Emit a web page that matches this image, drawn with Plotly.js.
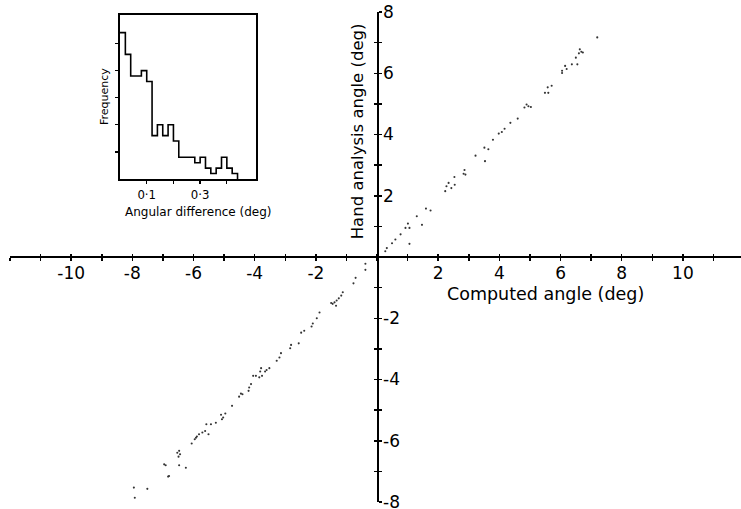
<!DOCTYPE html>
<html><head><meta charset="utf-8">
<script src="https://cdn.plot.ly/plotly-3.0.1.min.js"></script>
<style>body{margin:0;background:#fff}#chart{width:741px;height:509px}</style>
</head><body><div id="chart"></div>
<script>
// Scatter: computed angle (x) vs hand analysis angle (y), degrees
const computedAngle = [
 7.20,6.63,6.68,6.60,6.73,6.50,6.37,6.55,6.15,6.20,6.05,6.05,5.71,5.58,5.60,5.49,4.95,4.89,4.82,5.03,
 4.60,4.36,4.17,4.08,3.98,3.79,3.64,3.51,3.53,3.22,2.86,2.83,2.89,2.53,2.54,2.43,2.34,2.27,2.23,1.75,
 1.60,1.47,1.30,1.01,0.93,1.06,1.06,0.77,0.60,0.49,0.32,0.27,
 -0.38,-0.38,-0.70,-0.77,-1.12,-1.17,-1.25,-1.32,-1.39,-1.45,-1.50,-1.34,-1.88,-1.97,-2.10,-2.14,-2.38,-2.48,
 -2.56,-2.81,-2.84,-3.14,-3.19,-3.28,-3.52,-3.61,-3.66,-3.79,-3.82,-3.76,-3.85,-3.96,-4.05,-4.12,-4.18,-4.20,
 -4.40,-4.51,-4.45,-4.74,-4.96,-5.03,-5.07,-5.10,-5.27,-5.43,-5.58,-5.51,-5.62,-5.71,-5.82,-5.89,-5.96,-5.92,
 -6.06,-6.47,-6.53,-6.44,-6.49,-6.47,-6.25,-6.96,-6.91,-6.80,-6.83,-7.95,-7.51,-7.92
];
const handAngle = [
 7.17,6.78,6.70,6.65,6.68,6.51,6.29,6.29,6.24,6.14,6.08,6.01,5.59,5.54,5.36,5.36,4.92,4.98,4.88,4.90,
 4.52,4.38,4.19,4.08,4.03,3.83,3.52,3.57,3.13,3.31,2.84,2.72,2.69,2.61,2.36,2.25,2.42,2.31,2.15,1.52,
 1.58,1.05,1.33,1.09,0.95,0.95,0.43,0.74,0.57,0.45,0.29,0.19,
 -0.22,-0.42,-0.68,-0.86,-1.15,-1.26,-1.35,-1.42,-1.48,-1.53,-1.50,-1.59,-1.81,-2.00,-2.17,-2.27,-2.41,-2.47,
 -2.82,-2.87,-2.98,-3.14,-3.28,-3.39,-3.63,-3.69,-3.74,-3.63,-3.74,-3.88,-3.93,-3.88,-3.88,-4.15,-4.26,-4.37,
 -4.48,-4.56,-4.46,-4.86,-5.11,-5.24,-5.30,-5.15,-5.41,-5.46,-5.46,-5.79,-5.68,-5.73,-5.79,-5.86,-5.95,-5.90,
 -6.09,-6.33,-6.39,-6.44,-6.52,-6.80,-6.88,-6.77,-6.80,-7.15,-7.17,-7.53,-7.57,-7.86
];

// Inset histogram of angular difference (deg)
const histEdges = [0,0.02,0.04,0.06,0.08,0.10,0.12,0.14,0.16,0.18,0.20,0.22,0.24,0.26,0.28,0.30,0.32,0.34,0.36,0.38,0.40,0.42,0.44];
const histCounts = [27,23,19,19,20,18,8,10,8,10,7,4,4,4,3,4,2,1,2,4,2,1];

// Tick labels
const xTickVals = [-12,-11,-10,-9,-8,-7,-6,-5,-4,-3,-2,-1,0,1,2,3,4,5,6,7,8,9,10,11];
const xTickText = ['','','-10','','-8','','-6','','-4','','-2','','','','2','','4','','6','','8','','10',''];
const yTickVals = [-8,-7,-6,-5,-4,-3,-2,-1,0,1,2,3,4,5,6,7,8];
const yTickText = ['-8','','-6','','-4','','-2','','','','2','','4','','6','','8'];
const insetTickVals = [0.1,0.2,0.3,0.4];
const insetTickText = ['0·1','','0·3',''];
const insetFreqTicks = [5,10,15,20,25];

const nb = histCounts.length;
const stepX = histEdges.concat([histEdges[nb]]);
const stepY = histCounts.concat([histCounts[nb-1], 0]);

const traces = [
  {type:'scatter', mode:'markers', x:computedAngle, y:handAngle, xaxis:'x', yaxis:'y',
   marker:{size:2.1, color:'#333'}, hoverinfo:'skip'},
  {type:'scatter', mode:'lines', x:stepX, y:stepY, xaxis:'x2', yaxis:'y2',
   line:{shape:'hv', color:'#000', width:1.6}, hoverinfo:'skip'},
  {type:'scatter', mode:'markers', x:[], y:[], xaxis:'x3', yaxis:'y3', hoverinfo:'skip'}
];

const XR = [-12, 11.9];
const YR = [-8, 8];
const yPos = (0 - XR[0]) / (XR[1] - XR[0]);
const xPos = (0 - YR[0]) / (YR[1] - YR[0]);
const tickFont = {family:'DejaVu Sans, Liberation Sans, sans-serif', size:17, color:'#000'};

const layout = {
  width:741, height:509,
  margin:{l:10, r:0, t:12, b:7},
  paper_bgcolor:'#fff', plot_bgcolor:'rgba(0,0,0,0)',
  showlegend:false,
  font:{family:'DejaVu Sans, sans-serif', color:'#000'},
  xaxis:{range:XR, domain:[0,1], anchor:'free', position:xPos,
    showline:true, linecolor:'#000', linewidth:2, showgrid:false, zeroline:false,
    ticks:'outside', ticklen:3, tickwidth:1.5, tickcolor:'#000',
    tickmode:'array', tickvals:xTickVals, ticktext:xTickText, tickfont:tickFont,
    ticklabelstandoff:-2, ticklabeloverflow:'allow'},
  yaxis:{range:YR, domain:[0,1], anchor:'free', position:yPos, side:'right',
    showline:true, linecolor:'#000', linewidth:1.6, showgrid:false, zeroline:false,
    ticks:'outside', ticklen:3, tickwidth:1.5, tickcolor:'#000',
    tickmode:'array', tickvals:yTickVals, ticktext:yTickText, tickfont:tickFont,
    ticklabelstandoff:-2, ticklabeloverflow:'allow'},
  xaxis3:{range:XR, overlaying:'x', anchor:'free', position:xPos,
    showline:false, showgrid:false, zeroline:false, showticklabels:false,
    ticks:'inside', ticklen:3, tickwidth:1.5, tickcolor:'#000', tickmode:'array', tickvals:xTickVals},
  yaxis3:{range:YR, overlaying:'y', anchor:'free', position:yPos, side:'right',
    showline:false, showgrid:false, zeroline:false, showticklabels:false,
    ticks:'inside', ticklen:3, tickwidth:1.5, tickcolor:'#000', tickmode:'array', tickvals:yTickVals},
  xaxis2:{domain:[0.1505,0.3372], anchor:'y2', range:[0,0.511],
    showline:true, mirror:true, linecolor:'#000', linewidth:1.6, showgrid:false, zeroline:false,
    ticks:'outside', ticklen:3, tickwidth:1.3, tickcolor:'#000',
    tickmode:'array', tickvals:insetTickVals, ticktext:insetTickText,
    tickfont:{family:'DejaVu Sans Condensed, DejaVu Sans, sans-serif', size:13, color:'#000'}},
  yaxis2:{domain:[0.6592,0.9939], anchor:'x2', range:[0,30.26],
    showline:true, mirror:true, linecolor:'#000', linewidth:1.6, showgrid:false, zeroline:false,
    ticks:'outside', ticklen:3, tickwidth:1.3, tickcolor:'#000',
    tickmode:'array', tickvals:insetFreqTicks, showticklabels:false},
  annotations:[
    {text:'Computed angle (deg)', xref:'paper', yref:'paper', x:0.7319, y:0.424,
     xanchor:'center', yanchor:'middle', showarrow:false,
     font:{family:'DejaVu Sans, sans-serif', size:17.5, color:'#000'}},
    {text:'Hand analysis angle (deg)', xref:'paper', yref:'paper', x:0.475, y:0.757,
     xanchor:'center', yanchor:'middle', textangle:-90, showarrow:false,
     font:{family:'DejaVu Sans, sans-serif', size:16.5, color:'#000'}},
    {text:'Frequency', xref:'paper', yref:'paper', x:0.1286, y:0.8265,
     xanchor:'center', yanchor:'middle', textangle:-90, showarrow:false,
     font:{family:'DejaVu Sans, sans-serif', size:11, color:'#000'}},
    {text:'Angular difference (deg)', xref:'paper', yref:'paper', x:0.2572, y:0.5918,
     xanchor:'center', yanchor:'middle', showarrow:false,
     font:{family:'DejaVu Sans, sans-serif', size:12, color:'#000'}}
  ]
};

Plotly.newPlot('chart', traces, layout, {staticPlot:true, displayModeBar:false});
</script>
</body></html>
